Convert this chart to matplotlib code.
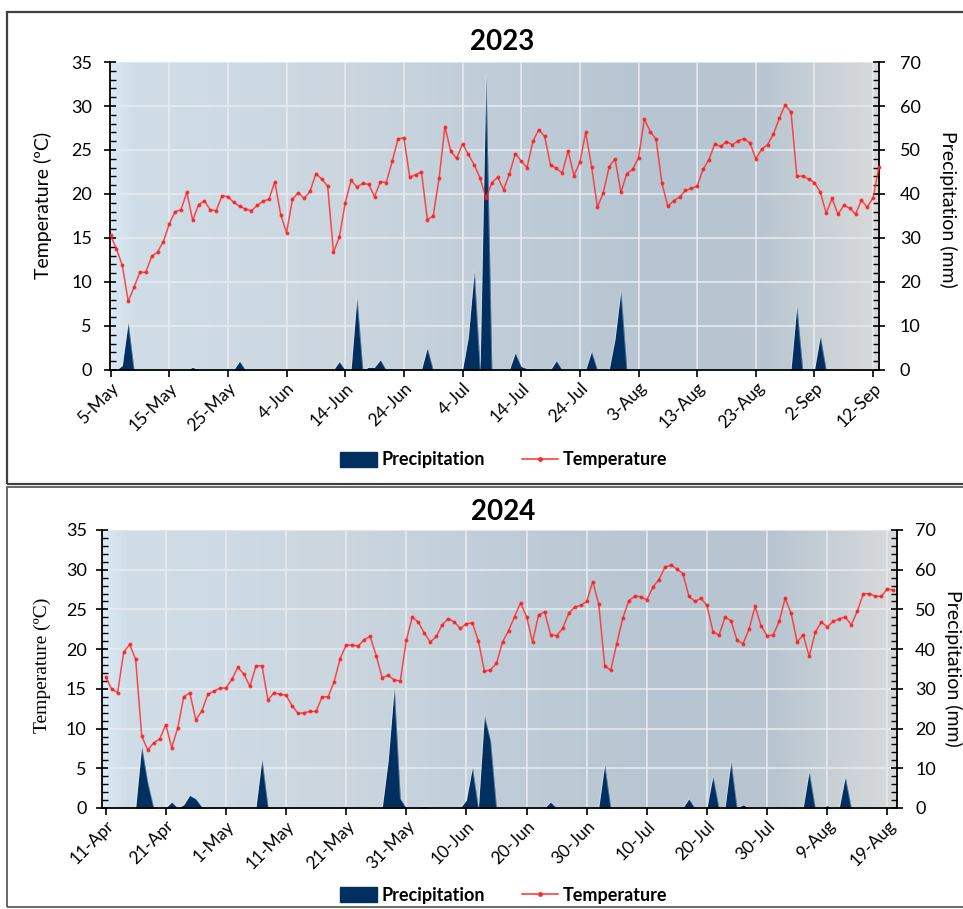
import numpy as np
import pandas as pd
import matplotlib
matplotlib.use('Agg')
import matplotlib.pyplot as plt
from matplotlib.colors import LinearSegmentedColormap
from matplotlib.patches import Patch, Rectangle
from matplotlib.lines import Line2D
from matplotlib.ticker import MultipleLocator

plt.rcParams['font.family'] = ['Lato', 'DejaVu Sans']

# ---- 2023 season (daily, from 5 May) ----
start_2023 = '2023-05-05'
temp_2023 = [
    15.3, 13.75, 11.9, 7.8, 9.4, 11.1, 11.1, 12.9, 13.4, 14.6,
    16.6, 18.0, 18.2, 20.2, 17.0, 18.8, 19.2, 18.2, 18.1, 19.8,
    19.7, 19.05, 18.6, 18.3, 18.1, 18.7, 19.2, 19.4, 21.4, 17.65,
    15.6, 19.4, 20.15, 19.5, 20.3, 22.3, 21.7, 20.9, 13.4, 15.1,
    19.0, 21.55, 20.8, 21.2, 21.1, 19.7, 21.4, 21.3, 23.7, 26.25,
    26.4, 21.9, 22.2, 22.5, 17.1, 17.5, 21.8, 27.65, 24.85, 24.05,
    25.7, 24.5, 23.3, 21.8, 19.5, 21.3, 21.9, 20.5, 22.3, 24.6,
    23.75, 23.0, 26.0, 27.3, 26.55, 23.3, 22.9, 22.4, 24.9, 22.1,
    23.6, 27.0, 23.1, 18.5, 20.15, 23.1, 24.0, 20.2, 22.3, 22.8,
    24.1, 28.5, 27.1, 26.2, 21.2, 18.6, 19.25, 19.65, 20.4, 20.65,
    20.9, 22.8, 23.9, 25.7, 25.4, 25.95, 25.6, 26.05, 26.3, 25.8,
    24.0, 25.1, 25.6, 26.8, 28.6, 30.15, 29.3, 22.0, 22.05, 21.7,
    21.3, 20.2, 17.8, 19.5, 17.7, 18.7, 18.4, 17.7, 19.3, 18.5,
    19.6, 23.1]
precip_2023 = [
    0, 0, 1.0, 10.8, 0, 0, 0, 0, 0, 0,
    0, 0, 0, 0, 0.6, 0, 0, 0, 0, 0,
    0, 0, 2.0, 0, 0, 0, 0, 0, 0, 0,
    0, 0, 0, 0, 0, 0, 0, 0, 0, 1.9,
    0, 0, 16.5, 0, 0.6, 0.6, 2.3, 0, 0, 0,
    0, 0, 0, 0, 5.0, 0, 0, 0, 0, 0,
    0, 7.5, 22.5, 0, 67.0, 0, 0, 0, 0, 3.9,
    0.8, 0.3, 0.2, 0, 0, 0, 2.1, 0, 0, 0,
    0, 0, 4.2, 0, 0, 0, 7.0, 18.0, 0.2, 0,
    0, 0, 0, 0, 0, 0, 0, 0, 0, 0,
    0, 0, 0, 0, 0, 0, 0, 0, 0, 0,
    0, 0, 0, 0, 0, 0, 0, 14.5, 0, 0,
    0, 7.7, 0, 0, 0, 0, 0, 0, 0, 0,
    0, 0]
ticks_2023 = ['5-May', '15-May', '25-May', '4-Jun', '14-Jun', '24-Jun', '4-Jul',
              '14-Jul', '24-Jul', '3-Aug', '13-Aug', '23-Aug', '2-Sep', '12-Sep']

# ---- 2024 season (daily, from 11 April) ----
start_2024 = '2024-04-11'
temp_2024 = [
    16.5, 15.0, 14.5, 19.6, 20.6, 18.7, 9.1, 7.3, 8.2, 8.7,
    10.5, 7.6, 10.1, 14.0, 14.5, 11.1, 12.2, 14.3, 14.7, 15.1,
    15.1, 16.2, 17.7, 16.85, 15.3, 17.9, 17.9, 13.6, 14.5, 14.3,
    14.2, 12.9, 11.9, 12.0, 12.15, 12.15, 14.0, 14.0, 15.9, 18.8,
    20.5, 20.5, 20.4, 21.2, 21.6, 19.15, 16.4, 16.7, 16.1, 16.0,
    21.1, 24.05, 23.4, 22.0, 20.9, 21.6, 23.1, 23.85, 23.4, 22.6,
    23.2, 23.3, 21.0, 17.2, 17.4, 18.2, 20.9, 22.3, 24.1, 25.8,
    24.1, 20.9, 24.3, 24.7, 21.8, 21.7, 22.6, 24.5, 25.3, 25.5,
    26.0, 28.5, 25.7, 17.9, 17.35, 20.7, 23.9, 26.1, 26.65, 26.6,
    26.2, 27.8, 28.75, 30.3, 30.6, 30.1, 29.5, 26.65, 26.0, 26.4,
    25.5, 22.2, 21.75, 24.0, 23.6, 21.1, 20.7, 22.5, 25.4, 22.9,
    21.7, 21.75, 23.5, 26.4, 24.5, 20.9, 21.8, 19.1, 22.1, 23.4,
    22.8, 23.5, 23.8, 24.05, 23.05, 24.8, 26.95, 27.0, 26.65, 26.65,
    27.6, 27.4]
precip_2024 = [
    0, 0, 0, 0, 0, 0, 15.5, 6.5, 0, 0,
    0, 1.5, 0, 0.8, 3.2, 2.3, 0.3, 0, 0, 0,
    0, 0, 0, 0, 0, 0, 12.3, 0.4, 0, 0,
    0, 0, 0, 0, 0, 0, 0, 0, 0, 0,
    0, 0, 0, 0, 0.2, 0, 0, 12.0, 30.3, 2.4,
    0, 0, 0, 0.4, 0, 0, 0, 0, 0, 0,
    2.0, 10.2, 0, 23.3, 17.0, 0, 0, 0, 0, 0,
    0, 0, 0, 0, 1.5, 0, 0, 0, 0, 0,
    0, 0, 0, 10.9, 0, 0, 0, 0, 0, 0,
    0, 0, 0, 0, 0, 0, 0, 2.3, 0, 0,
    0, 8.0, 0, 0, 11.7, 0, 0.8, 0, 0, 0,
    0, 0, 0, 0, 0.2, 0, 0, 9.2, 0, 0,
    0.6, 0, 0, 7.8, 0, 0, 0, 0, 0, 0,
    0, 0]
ticks_2024 = ['11-Apr', '21-Apr', '1-May', '11-May', '21-May', '31-May', '10-Jun',
              '20-Jun', '30-Jun', '10-Jul', '20-Jul', '30-Jul', '9-Aug', '19-Aug']

PRECIP_COLOR = '#002f60'
TEMP_COLOR = '#ff2e2e'
GRID_COLOR = '#e8ecef'
bg_cmap = LinearSegmentedColormap.from_list('bg', [
    (0.0, '#d9e9f5'), (0.03, '#d0dde7'), (0.3, '#cbd6df'), (0.5, '#c0cdd8'),
    (0.7, '#b6c5d1'), (0.85, '#b9c6d1'), (0.95, '#ced4d8'), (1.0, '#d9d9d9')])

W, H = 963, 909
fig = plt.figure(figsize=(W / 100, H / 100), dpi=100)


def px_rect(left, top, right, bottom):
    return [left / W, 1 - bottom / H, (right - left) / W, (bottom - top) / H]


def draw_panel(rect, start, temp, precip, labels, title, title_xy, xpad,
               ylab_font, ylab_xy, rlab_xy, legend_xy, lpad, rpad):
    dates = pd.date_range(start, periods=len(temp), freq='D')
    x0 = dates[0] - pd.Timedelta(days=xpad[0])
    x1 = dates[-1] + pd.Timedelta(days=xpad[1])

    ax = fig.add_axes(rect)
    ax.imshow(np.linspace(0, 1, 256)[None, :], cmap=bg_cmap, aspect='auto',
              extent=(0, 1, 0, 1), transform=ax.transAxes, zorder=0)
    ax.set_xlim(x0, x1)
    ax.set_ylim(0, 35)
    ax.yaxis.set_major_locator(MultipleLocator(5))
    ax.yaxis.set_minor_locator(MultipleLocator(1))
    ax.set_xticks(dates[::10])
    ax.set_xticklabels(labels, rotation=45, ha='right', rotation_mode='anchor',
                       fontsize=12.5)
    ax.grid(True, color=GRID_COLOR, lw=1.1, zorder=1)
    ax.set_axisbelow(True)
    ax.tick_params(axis='y', which='major', direction='inout', length=8, width=1.2,
                   labelsize=13, pad=lpad)
    ax.tick_params(axis='y', which='minor', direction='in', length=4, width=1.0)
    ax.tick_params(axis='x', direction='out', length=5, width=1.2, pad=2)
    for s in ['top', 'right', 'bottom']:
        ax.spines[s].set_visible(False)
    ax.spines['left'].set_linewidth(1.3)

    # precipitation on secondary axis
    ax2 = ax.twinx()
    ax2.fill_between(dates, precip, 0, color=PRECIP_COLOR, lw=0)
    ax2.plot(dates, precip, color='white', lw=0.6, alpha=0.35)
    ax2.set_ylim(0, 70)
    ax2.yaxis.set_major_locator(MultipleLocator(10))
    ax2.yaxis.set_minor_locator(MultipleLocator(2))
    ax2.tick_params(axis='y', which='major', direction='inout', length=8, width=1.2,
                    labelsize=13, pad=rpad)
    ax2.tick_params(axis='y', which='minor', direction='in', length=4, width=1.0)
    for s in ['top', 'left']:
        ax2.spines[s].set_visible(False)
    ax2.spines['right'].set_linewidth(1.3)
    ax2.spines['bottom'].set_linewidth(1.3)

    # temperature line on top
    ax3 = ax.twinx()
    ax3.set_ylim(0, 35)
    ax3.plot(dates, temp, color=TEMP_COLOR, lw=1.1, alpha=0.85, marker='o',
             markersize=2.8, markeredgewidth=0, markerfacecolor='#ff1a1a',
             clip_on=False)
    ax3.axis('off')

    fig.text(title_xy[0] / W, 1 - title_xy[1] / H, title, ha='center', va='center',
             fontsize=20, fontweight='bold')
    fig.text(ylab_xy[0] / W, 1 - ylab_xy[1] / H, 'Temperature (ºC)', rotation=90,
             ha='center', va='center', fontsize=14, family=ylab_font)
    fig.text(rlab_xy[0] / W, 1 - rlab_xy[1] / H, 'Precipitation (mm)', rotation=270,
             ha='center', va='center', fontsize=14)

    handles = [Patch(color=PRECIP_COLOR),
               Line2D([0], [0], color=TEMP_COLOR, lw=1.1, marker='o', markersize=2.5)]
    fig.legend(handles, ['Precipitation', 'Temperature'], loc='center',
               bbox_to_anchor=(legend_xy[0] / W, 1 - legend_xy[1] / H), ncol=2,
               frameon=False, prop={'size': 13, 'weight': 'bold'},
               handlelength=2.0, handleheight=0.9,
               handletextpad=0.3, columnspacing=2.0)


draw_panel(px_rect(110, 62, 879, 370), start_2023, temp_2023, precip_2023, ticks_2023,
           '2023', (502, 42), (0.1, 0.0), ['Lato', 'DejaVu Sans'], (43, 205),
           (948, 209), (504, 460), 9, 11)
draw_panel(px_rect(102, 530, 897, 808), start_2024, temp_2024, precip_2024, ticks_2024,
           '2024', (503, 512), (0.6, 0.6), ['Liberation Serif', 'DejaVu Serif'], (42, 665),
           (953, 668), (504, 895), 7, 9)

# panel frames
fig.add_artist(Rectangle((7 / W, 1 - 484 / H), 1.0, (484 - 12) / H,
                         transform=fig.transFigure, fill=False, ec='#404040', lw=1.6))
fig.add_artist(Rectangle((7 / W, 1 - 907 / H), 1.0, (907 - 487) / H,
                         transform=fig.transFigure, fill=False, ec='#505050', lw=1.2))

fig.savefig('out.png', dpi=100)
